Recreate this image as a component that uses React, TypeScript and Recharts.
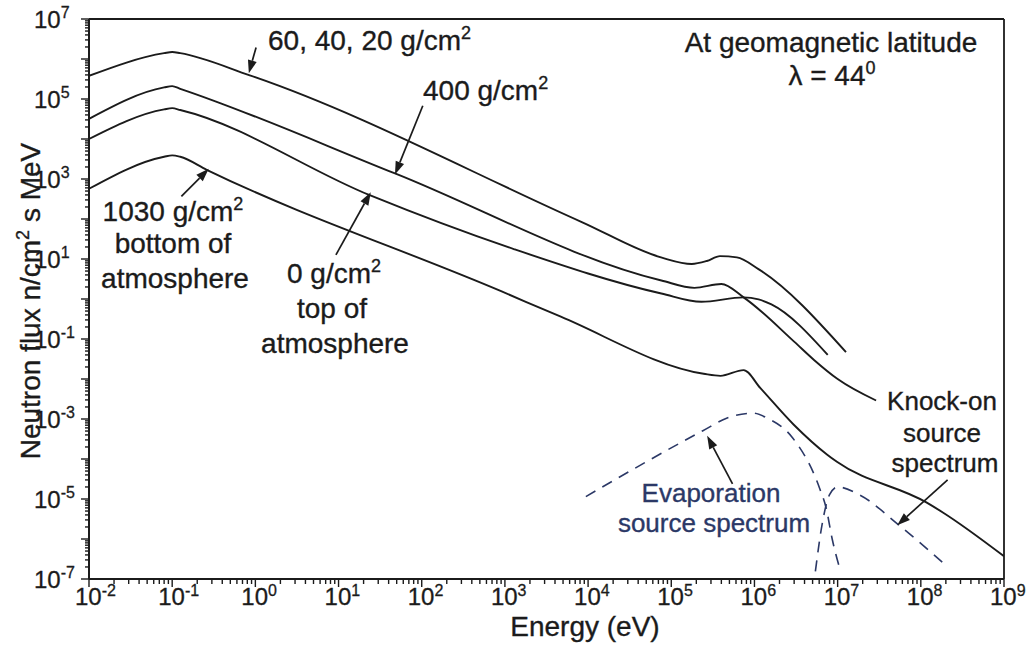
import React from 'react';
import { LineChart, Line, XAxis, YAxis, ReferenceLine } from 'recharts';

const FONT = '"Liberation Sans", Arial, Helvetica, sans-serif';
const INK = '#1b1b1b';
const NAVY = '#2b3866';

// ---- Data: energy (eV) vs neutron flux (n/cm² s MeV) ----
const depth60Energy = [0.01, 0.08, 0.1, 0.125, 0.857, 8.4e3, 7.7e4, 1.76e5, 2.67e5, 3.85e5, 6.15e5, 1.13e6, 1.26e7];
const depth60Flux = [3.8e5, 1.4e6, 1.5e6, 1.4e6, 3.9e5, 84, 10.8, 7.5, 8.9, 11.8, 11, 5.5, 0.047];

const depth400Energy = [0.01, 0.08, 0.1, 0.125, 47.7, 7.6e4, 1.9e5, 4.0e5, 7.4e5, 3.0e6, 5.2e6, 1.0e7, 2.9e7];
const depth400Flux = [3.2e4, 1.95e5, 2.1e5, 1.8e5, 1.38e3, 2.9, 1.9, 2.37, 1.1, 0.086, 0.03, 0.01, 2.9e-3];

const depth0Energy = [0.01, 0.08, 0.1, 0.125, 23.7, 1.3e3, 7.6e4, 2.3e5, 7.4e5, 1.12e6, 1.6e6, 7.6e6];
const depth0Flux = [1.0e4, 5.5e4, 5.9e4, 5.3e4, 394, 17.5, 1.37, 0.85, 1.1, 0.98, 0.73, 0.04];

const depth1030Energy = [0.01, 0.08, 0.1, 0.125, 0.26, 900, 4.7e3, 2.45e5, 3.9e5, 7.4e5, 1.18e6, 2.95e6, 7.5e6, 9.8e6, 1.18e8, 1.84e8, 1e9];
const depth1030Flux = [570, 3.6e3, 3.9e3, 3.6e3, 1.7e3, 1.57, 0.36, 0.0135, 0.012, 0.0167, 5.9e-3, 7.3e-4, 1.28e-4, 8.5e-5, 8.1e-6, 4.6e-6, 3.7e-7];

const evaporationEnergy = [9.4e3, 2.4e5, 4.7e5, 9.7e5, 1.43e6, 2.9e6, 6.1e6, 7.3e6, 8.6e6, 1.09e7];
const evaporationFlux = [1.15e-5, 5.1e-4, 1.06e-3, 1.4e-3, 1.05e-3, 3.3e-4, 1.8e-5, 5.8e-6, 1.0e-6, 1.5e-7];

const knockOnEnergy = [5.4e6, 6.5e6, 8.0e6, 1.0e7, 1.84e7, 5.5e7, 2.0e8];
const knockOnFlux = [1.55e-7, 2.3e-6, 1.28e-5, 2.0e-5, 1.26e-5, 2.2e-6, 2.2e-7];

// Annotation arrows: [energy, flux] of tail and head
const arrowTails = [[1.02, 1.95e6], [103, 6.8e4], [9.3, 12.7], [0.129, 366], [5.45e5, 2.4e-5], [2.1e8, 3.0e-5]];
const arrowHeads = [[0.834, 4.4e5], [47.7, 1.3e3], [24.4, 469], [0.275, 1.8e3], [2.7e5, 3.8e-4], [5.2e7, 2.2e-6]];

// Axes
const xTickExponents = [-2, -1, 0, 1, 2, 3, 4, 5, 6, 7, 8, 9];
const yTickExponents = [-7, -6, -5, -4, -3, -2, -1, 0, 1, 2, 3, 4, 5, 6, 7];
const yLabelExponents = [7, 5, 3, 1, -1, -3, -5, -7];
const minorMultipliers = [2, 3, 4, 5, 6, 7, 8, 9];

const buildTicks = (exps: number[]) => {
  const out: number[] = [];
  exps.forEach((e, i) => {
    out.push(Math.pow(10, e));
    if (i < exps.length - 1) minorMultipliers.forEach((m) => out.push(m * Math.pow(10, e)));
  });
  return out;
};
const xTicks = buildTicks(xTickExponents);
const yTicks = buildTicks(yTickExponents);

const toPoints = (xs: number[], ys: number[]) => xs.map((x, i) => ({ x, y: ys[i] }));

const isMajor = (v: number) => {
  const l = Math.log10(v);
  return Math.abs(l - Math.round(l)) < 1e-6;
};

const XTick = (props: any) => {
  const { x, y, payload } = props;
  const v = payload.value;
  const major = isMajor(v);
  const e = Math.round(Math.log10(v));
  return (
    <g>
      <line x1={x} x2={x} y1={y} y2={y + (major ? 8 : 5)} stroke={INK} strokeWidth={1.4} />
      {major && (
        <text x={x - 14} y={y + 26} fontSize={24} fontFamily={FONT} fill={INK} stroke={INK} strokeWidth={0.3}>
          <tspan>10</tspan>
          <tspan dy={-9} fontSize={16}>{e}</tspan>
        </text>
      )}
    </g>
  );
};

const YTick = (props: any) => {
  const { x, y, payload } = props;
  const v = payload.value;
  const major = isMajor(v);
  const e = Math.round(Math.log10(v));
  const labelled = major && yLabelExponents.includes(e);
  return (
    <g>
      <line x1={x} x2={x - (major ? 8 : 4)} y1={y} y2={y} stroke={INK} strokeWidth={1.4} />
      {labelled && (
        <text x={x - 55} y={y + 9} fontSize={24} fontFamily={FONT} fill={INK} stroke={INK} strokeWidth={0.3}>
          <tspan>10</tspan>
          <tspan dy={-10} fontSize={16}>{e}</tspan>
        </text>
      )}
    </g>
  );
};

const ArrowShape = (props: any) => {
  const { x1, y1, x2, y2 } = props;
  const ang = Math.atan2(y2 - y1, x2 - x1);
  const L = 13;
  const W = 4.5;
  const bx = x2 - L * Math.cos(ang);
  const by = y2 - L * Math.sin(ang);
  const p1x = bx + W * Math.sin(ang);
  const p1y = by - W * Math.cos(ang);
  const p2x = bx - W * Math.sin(ang);
  const p2y = by + W * Math.cos(ang);
  return (
    <g>
      <line x1={x1} y1={y1} x2={bx} y2={by} stroke={INK} strokeWidth={1.7} />
      <polygon points={`${x2},${y2} ${p1x},${p1y} ${p2x},${p2y}`} fill={INK} />
    </g>
  );
};

const series = [
  { key: 'd60', pts: toPoints(depth60Energy, depth60Flux), color: INK, dash: undefined },
  { key: 'd400', pts: toPoints(depth400Energy, depth400Flux), color: INK, dash: undefined },
  { key: 'd0', pts: toPoints(depth0Energy, depth0Flux), color: INK, dash: undefined },
  { key: 'd1030', pts: toPoints(depth1030Energy, depth1030Flux), color: INK, dash: undefined },
  { key: 'evap', pts: toPoints(evaporationEnergy, evaporationFlux), color: NAVY, dash: '11 8' },
  { key: 'knock', pts: toPoints(knockOnEnergy, knockOnFlux), color: NAVY, dash: '11 8' },
];

const txt = { fontFamily: FONT, fill: INK, stroke: INK, strokeWidth: 0.35 } as const;

export default function App() {
  return (
    <div style={{ position: 'absolute', left: 0, top: 0, width: 1027, height: 645, background: '#fff' }}>
      <LineChart width={1027} height={645} margin={{ top: 19, right: 23, bottom: 0, left: 0 }}>
        <XAxis
          dataKey="x"
          type="number"
          scale="log"
          domain={[1e-2, 1e9]}
          allowDataOverflow
          ticks={xTicks}
          interval={0}
          tickSize={0}
          tickMargin={0}
          tickLine={false}
          tick={(p: any) => <XTick {...p} />}
          axisLine={{ stroke: INK, strokeWidth: 2 }}
          height={66}
        />
        <YAxis
          type="number"
          scale="log"
          domain={[1e-7, 1e7]}
          allowDataOverflow
          ticks={yTicks}
          interval={0}
          tickSize={0}
          tickMargin={0}
          tickLine={false}
          tick={(p: any) => <YTick {...p} />}
          axisLine={{ stroke: INK, strokeWidth: 2 }}
          width={89}
        />
        <ReferenceLine y={1e7} stroke={INK} strokeWidth={1.8} ifOverflow="visible" />
        <ReferenceLine x={1e9} stroke={INK} strokeWidth={1.8} ifOverflow="visible" />
        {series.map((s) => (
          <Line
            key={s.key}
            data={s.pts}
            dataKey="y"
            type="monotone"
            stroke={s.color}
            strokeWidth={s.dash ? 1.6 : 1.9}
            strokeDasharray={s.dash}
            dot={false}
            activeDot={false}
            isAnimationActive={false}
          />
        ))}
        {arrowTails.map((t, i) => (
          <ReferenceLine
            key={'arr' + i}
            segment={[{ x: t[0], y: t[1] }, { x: arrowHeads[i][0], y: arrowHeads[i][1] }]}
            ifOverflow="visible"
            shape={(p: any) => <ArrowShape {...p} />}
          />
        ))}
      </LineChart>
      <svg width={1027} height={645} style={{ position: 'absolute', left: 0, top: 0, pointerEvents: 'none' }}>
        <g {...txt} fontSize={28}>
          <text x={268} y={50}>60, 40, 20 g/cm<tspan dy={-11} fontSize={18}>2</tspan></text>
          <text x={423} y={100}>400 g/cm<tspan dy={-11} fontSize={18}>2</tspan></text>
          <text x={831} y={52} textAnchor="middle">At geomagnetic latitude</text>
          <text x={832} y={85} textAnchor="middle">λ = 44<tspan dy={-11} fontSize={18}>0</tspan></text>
          <text x={173} y={221} textAnchor="middle">1030 g/cm<tspan dy={-11} fontSize={18}>2</tspan></text>
          <text x={173} y={253} textAnchor="middle">bottom of</text>
          <text x={175} y={288} textAnchor="middle">atmosphere</text>
          <text x={334} y={283} textAnchor="middle">0 g/cm<tspan dy={-11} fontSize={18}>2</tspan></text>
          <text x={332} y={318} textAnchor="middle">top of</text>
          <text x={335} y={353} textAnchor="middle">atmosphere</text>
          <text x={585} y={636} textAnchor="middle">Energy (eV)</text>
          <text transform="translate(40,301) rotate(-90)" textAnchor="middle">
            Neutron flux n/cm<tspan dy={-11} fontSize={18}>2</tspan><tspan dy={11}> s MeV</tspan>
          </text>
        </g>
        <g {...txt} fontSize={26}>
          <text x={942} y={410} textAnchor="middle">Knock-on</text>
          <text x={942} y={442} textAnchor="middle">source</text>
          <text x={945} y={472} textAnchor="middle">spectrum</text>
        </g>
        <g fontFamily={FONT} fill={NAVY} stroke={NAVY} strokeWidth={0.35} fontSize={26}>
          <text x={711} y={502} textAnchor="middle">Evaporation</text>
          <text x={714} y={532} textAnchor="middle">source spectrum</text>
        </g>
      </svg>
    </div>
  );
}
